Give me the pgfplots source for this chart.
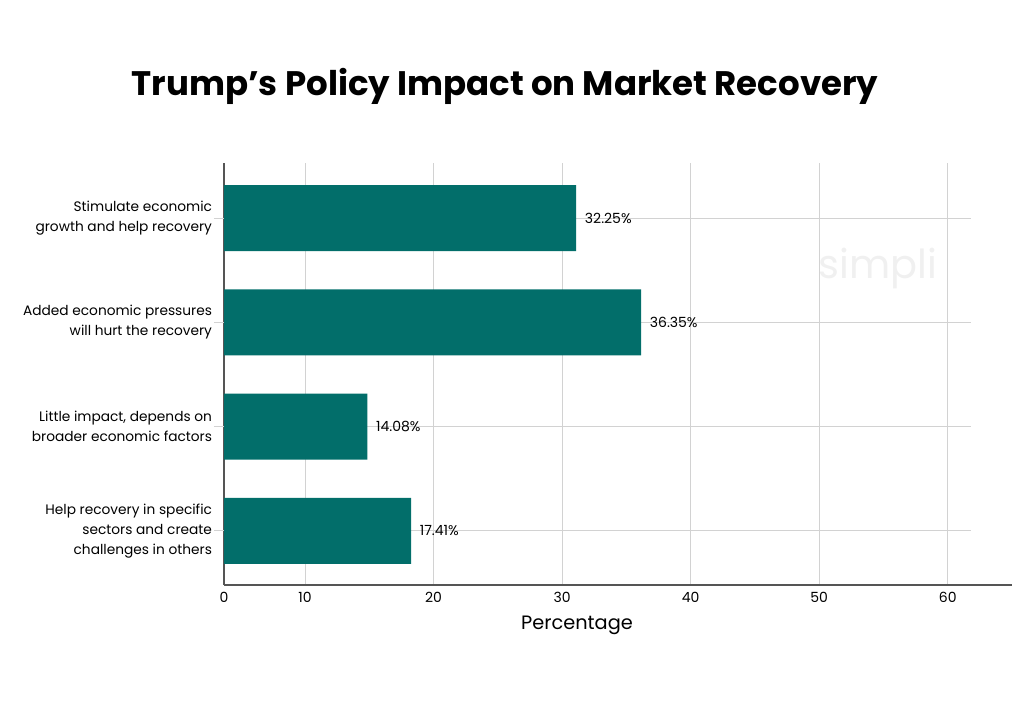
\documentclass[border=0pt]{standalone}
\usepackage{pgfplots}
\pgfplotsset{compat=1.18}
\usepackage{fontspec}
\setmainfont{Poppins}
\definecolor{barteal}{RGB}{2,110,106}
\definecolor{gridgray}{RGB}{210,210,210}
\definecolor{axgray}{RGB}{85,85,85}
\begin{document}
\begin{tikzpicture}
\begin{axis}[
  scale only axis, width=591pt, height=316.5pt,
  xbar, bar width=49.5pt,
  xmin=3.7, xmax=65, ymin=-0.52, ymax=3.53,
  axis x line*=bottom, axis y line*=left,
  axis line style={axgray, line width=0.9pt, -},
  xtick={3.7,10,20,30,40,50,60},
  xticklabels={0,10,20,30,40,50,60},
  ytick={0,1,2,3},
  yticklabels={{Help recovery in specific\\sectors and create\\challenges in others},
               {Little impact, depends on\\broader economic factors},
               {Added economic pressures\\will hurt the recovery},
               {Stimulate economic\\growth and help recovery}},
  yticklabel style={align=right, font=\fontsize{10.3}{15}\selectfont, xshift=-5.5pt},
  xticklabel style={font=\fontsize{10.5}{12}\selectfont, yshift=-2pt},
  /pgf/number format/assume math mode=true,
  major tick length=0pt,
  xmajorgrids, grid style={gridgray, line width=0.6pt},
  clip=false,
  nodes near coords={\pgfplotspointmeta\%},
  point meta=explicit symbolic,
  every node near coord/.append style={font=\fontsize{10.5}{12}\selectfont, anchor=west, xshift=3pt, text=black},
]
\foreach \yy in {0,1,2,3} {
  \edef\temp{\noexpand\draw[gridgray, line width=0.6pt] (axis cs:2.92,\yy) -- (axis cs:61.8,\yy);}
  \temp
}
\addplot[fill=barteal, draw=none] table[x=x, y=y, meta=lab] {
x y lab
31.1 3 32.25
36.15 2 36.35
14.85 1 14.08
18.25 0 17.41
};
\node[text=gray!12, font=\fontsize{30}{36}\selectfont] at (rel axis cs:0.83,0.751) {simpli};
\node[font=\bfseries\fontsize{25.5}{30}\selectfont] at (rel axis cs:0.3566,1.182) {Trump’s Policy Impact on Market Recovery};
\node[font=\fontsize{14.5}{17}\selectfont] at (rel axis cs:0.448,-0.0948) {Percentage};
\path (rel axis cs:-0.2843,1.3863) rectangle (rel axis cs:1.0152,-0.2915);
\end{axis}
\end{tikzpicture}
\end{document}
